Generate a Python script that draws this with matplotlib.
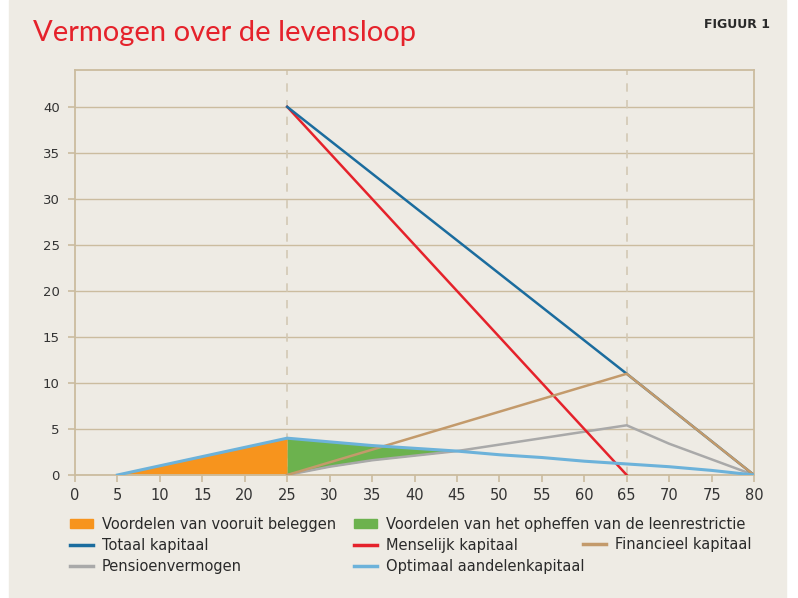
import numpy as np
import matplotlib.pyplot as plt
from matplotlib.lines import Line2D
from matplotlib.patches import Patch

# age grid and series
totaal_x      = [25, 65, 80]
totaal        = [40, 11, 0]
menselijk_x   = [25, 65]
menselijk     = [40, 0]
financieel_x  = [25, 65, 80]
financieel    = [0, 11, 0]
pensioen_x    = [25, 30, 35, 40, 45, 50, 55, 60, 65, 70, 75, 80]
pensioen      = [0, 0.9, 1.6, 2.1, 2.6, 3.3, 4.0, 4.7, 5.4, 3.4, 1.7, 0]
aandelen_x    = [5, 25, 30, 35, 40, 45, 50, 55, 60, 65, 70, 75, 80]
aandelen      = [0, 4.0, 3.6, 3.2, 2.9, 2.6, 2.2, 1.9, 1.5, 1.2, 0.9, 0.5, 0]

bg   = '#eeebe4'
tan  = '#cbbc9f'
c_totaal, c_mens, c_fin = '#1b6c9e', '#e5222b', '#c39a6b'
c_pens, c_aand = '#a9a9a9', '#6cb2da'
c_oranje, c_groen = '#f7941d', '#6cb24e'

fig = plt.figure(figsize=(7.98, 5.98), dpi=100, facecolor='white')
fig.patches.append(plt.Rectangle((9/798, 0), 777/798, 1, transform=fig.transFigure,
                                 color=bg, zorder=-10))
ax = fig.add_axes([75/798, 1-475/598, 679/798, 405/598])
ax.set_facecolor(bg)

# filled areas
xo = np.array(aandelen_x[:2]); yo = np.array(aandelen[:2])
ax.fill_between(xo, 0, yo, color=c_oranje, lw=0, zorder=2)
xg = np.linspace(25, 45, 41)
ya = np.interp(xg, aandelen_x, aandelen)
yp = np.interp(xg, pensioen_x, pensioen)
ax.fill_between(xg, yp, ya, where=ya >= yp, color=c_groen, lw=0, zorder=2)

lw = 1.8
ax.plot(pensioen_x, pensioen, color=c_pens, lw=lw, zorder=3)
ax.plot(menselijk_x, menselijk, color=c_mens, lw=lw, zorder=4)
ax.plot(totaal_x, totaal, color=c_totaal, lw=lw, zorder=5)
ax.plot(financieel_x, financieel, color=c_fin, lw=lw, zorder=5)
ax.plot(aandelen_x, aandelen, color=c_aand, lw=lw + 0.4, zorder=6)

for xv in [25, 65]:
    ax.axvline(xv, color='#d3c9b5', lw=1.2, ls=(0, (5, 5)), zorder=1)

ax.set_xlim(0, 80)
ax.set_ylim(0, 44)
ax.set_xticks(range(0, 81, 5))
ax.set_yticks(range(0, 41, 5))
ax.yaxis.grid(True, color=tan, lw=1, zorder=0)
ax.set_axisbelow(True)
for s in ax.spines.values():
    s.set_color(tan)
    s.set_linewidth(1.3)
ax.tick_params(colors=tan, length=5, width=1.2)
ax.tick_params(axis='x', labelsize=10.5, labelcolor='#333333', pad=4)
ax.tick_params(axis='y', labelsize=9.5, labelcolor='#333333', pad=6)

fig.text(33/798, 1-33/598, 'Vermogen over de levensloop', color='#e5222b',
         fontsize=21, va='center', ha='left', family=['Lato', 'DejaVu Sans'])
fig.text(770/798, 1-25/598, 'FIGUUR 1', color='#2a2a2a', fontsize=9,
         fontweight='bold', va='center', ha='right')

def h_line(c):
    return Line2D([], [], color=c, lw=2.5)

def h_patch(c):
    return Patch(color=c)

leg_kw = dict(frameon=False, loc='upper left', fontsize=10.5, handlelength=1.6,
              handleheight=0.6, handletextpad=0.6, labelspacing=0.42,
              borderaxespad=0, borderpad=0, labelcolor='#2a2a2a')
cols = [
    (70, 517, [h_patch(c_oranje), h_line(c_totaal), h_line(c_pens)],
     ['Voordelen van vooruit beleggen', 'Totaal kapitaal', 'Pensioenvermogen']),
    (354, 517, [h_patch(c_groen), h_line(c_mens), h_line(c_aand)],
     ['Voordelen van het opheffen van de leenrestrictie', 'Menselijk kapitaal',
      'Optimaal aandelenkapitaal']),
    (583, 537, [h_line(c_fin)], ['Financieel kapitaal']),
]
for x0, y0, hs, ls in cols:
    lg = fig.legend(hs, ls, bbox_to_anchor=(x0/798, 1-y0/598), **leg_kw)

fig.savefig('out.png', dpi=100, facecolor='white')
